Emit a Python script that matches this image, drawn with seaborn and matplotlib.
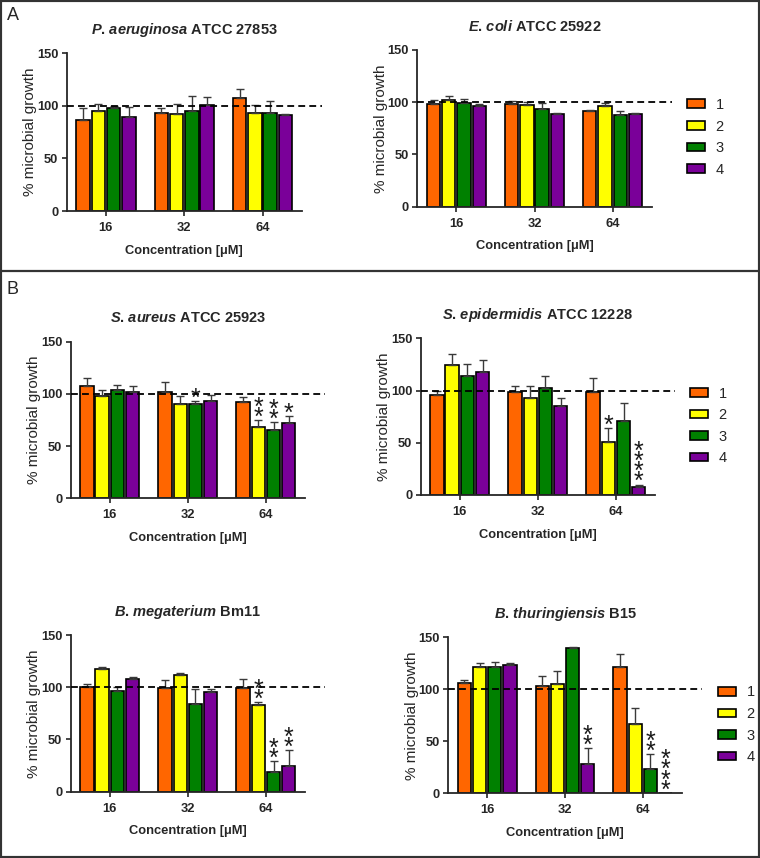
import numpy as np
import pandas as pd
import matplotlib
matplotlib.use("Agg")
import matplotlib.pyplot as plt
import seaborn as sns
from matplotlib.patches import Patch, Rectangle
from matplotlib.lines import Line2D

CONC = ["16", "32", "64"]
COMPOUNDS = ["1", "2", "3", "4"]
COLORS = ["#ff6600", "#ffff00", "#008000", "#7a0099"]

# mean / SD of % growth, rows = concentration, cols = compound 1..4
PA_MEAN = [[87, 95, 98, 89], [93, 92, 95, 100.5], [107.5, 93, 93, 91]]
PA_SD = [[11, 7, 2, 10], [5, 9.5, 14, 8], [9, 8, 12, 1.5]]
EC_MEAN = [[98, 102, 99, 96], [98, 97, 94, 89], [92, 96, 87.5, 88.5]]
EC_SD = [[4, 3.5, 4, 2.5], [3.5, 3, 5, 1], [1, 3, 4.5, 1]]
SA_MEAN = [[108, 98, 104, 102], [102, 90, 90, 93.5], [92, 68, 65, 72]]
SA_SD = [[7, 6, 5, 6], [9, 8, 3, 5], [5, 7, 8, 7]]
SE_MEAN = [[96, 124, 114, 118], [99, 92.5, 102, 85], [99, 51, 71, 7.5]]
SE_SD = [[4, 11, 11, 11], [5, 12, 12, 8], [13, 13, 17, 2.5]]
BM_MEAN = [[100.5, 117, 96, 108], [99.5, 112, 84, 95], [99.5, 83, 19, 25]]
BM_SD = [[3, 2, 4.5, 1.5], [7, 1.2, 14, 3], [8, 3, 10, 15]]
BT_MEAN = [[106, 121, 121, 123], [103, 105, 140, 28.5], [121, 67, 23.5, 0.5]]
BT_SD = [[3, 4, 5, 2], [10, 13, 0.5, 15], [13, 15, 14, 0]]

# significance: (concentration idx, compound idx, number of stars)
PA_STARS = []
EC_STARS = []
SA_STARS = [(1, 2, 1), (2, 1, 2), (2, 2, 2), (2, 3, 1)]
SE_STARS = [(2, 1, 1), (2, 3, 4)]
BM_STARS = [(2, 1, 2), (2, 2, 2), (2, 3, 2)]
BT_STARS = [(1, 3, 2), (2, 2, 2), (2, 3, 4)]

W, H = 760, 858

sns.set_style("ticks")
plt.rcParams["font.family"] = ["Liberation Sans", "DejaVu Sans"]
plt.rcParams["mathtext.fontset"] = "custom"
plt.rcParams["mathtext.it"] = "Liberation Sans:italic:bold"
plt.rcParams["mathtext.rm"] = "Liberation Sans:bold"
plt.rcParams["mathtext.bf"] = "Liberation Sans:bold"


def px_rect(x0, y0, x1, y1):
    return [x0 / W, 1 - y1 / H, (x1 - x0) / W, (y1 - y0) / H]


def draw_panel(fig, rect, title, mean, sd, stars):
    ax = fig.add_axes(px_rect(*rect))
    df = pd.DataFrame({"conc": [c for c in CONC for _ in COMPOUNDS],
                       "compound": COMPOUNDS * len(CONC),
                       "growth": np.ravel(mean)})
    sns.barplot(data=df, x="conc", y="growth", hue="compound",
                order=CONC, hue_order=COMPOUNDS, palette=COLORS,
                saturation=1, width=0.78, gap=0.12, edgecolor="black",
                linewidth=1.2, errorbar=None, legend=False, ax=ax)
    sd = np.array(sd)
    # bars sorted left to right -> (conc, compound) order
    bars = sorted(ax.patches, key=lambda b: b.get_x())
    bars = [bars[i * len(COMPOUNDS):(i + 1) * len(COMPOUNDS)] for i in range(len(CONC))]
    xs, tops, errs = [], [], []
    for ci, row in enumerate(bars):
        for hi, b in enumerate(row):
            xs.append(b.get_x() + b.get_width() / 2)
            tops.append(b.get_height())
            errs.append(sd[ci, hi])
    ax.errorbar(xs, tops, yerr=[np.zeros(len(xs)), errs], fmt="none",
                ecolor="#3a3a3a", elinewidth=1, capsize=3, capthick=1, zorder=3)
    for ci, hi, n in stars:
        b = bars[ci][hi]
        x = b.get_x() + b.get_width() / 2
        top = b.get_height() + sd[ci, hi]
        ax.annotate("\n".join(["*"] * n), (x, top), xytext=(0, -7),
                    textcoords="offset points", ha="center", va="bottom",
                    fontsize=18, linespacing=0.27, color="#1a1a1a")
    ax.plot([0, 1.085], [100, 100], transform=ax.get_yaxis_transform(),
            ls=(0, (3.8, 2.3)), color="black", lw=1.3, clip_on=False, zorder=4)
    ax.set_ylim(0, 150)
    ax.set_xlim(-0.5, 2.5)
    ax.set_yticks([0, 50, 100, 150])
    sns.despine(ax=ax)
    for s in ("left", "bottom"):
        ax.spines[s].set_linewidth(1.3)
    ax.tick_params(axis="both", width=1.2, length=3.5, pad=2.5, labelsize=9.3)
    ax.tick_params(axis="x", pad=4.5)
    for t in ax.get_xticklabels() + ax.get_yticklabels():
        t.set_fontweight("bold")
    ax.set_title(title, fontsize=10.5, fontweight="bold", pad=14)
    ax.set_xlabel("Concentration [μM]", fontsize=9.3, fontweight="bold")
    ax.set_ylabel("% microbial growth", fontsize=11)
    ax.xaxis.set_label_coords(0.5, -0.215)
    ax.yaxis.set_label_coords(-0.125, 0.5)
    return ax


def add_legend(fig, x, y):
    handles = [Patch(facecolor=c, edgecolor="black", linewidth=1.2) for c in COLORS]
    fig.legend(handles, COMPOUNDS, loc="upper left",
               bbox_to_anchor=(x / W, 1 - y / H), frameon=False, borderpad=0,
               borderaxespad=0, handlelength=1.2, handleheight=0.55,
               labelspacing=0.52, handletextpad=0.75, fontsize=10.5)


fig = plt.figure(figsize=(W / 100, H / 100), dpi=100)

draw_panel(fig, (66.7, 53.3, 301.7, 211), r"$P$. $aeruginosa$ ATCC 27853",
           PA_MEAN, PA_SD, PA_STARS)
draw_panel(fig, (417.3, 50, 651.7, 206.7), r"$E$. $coli$ ATCC 25922",
           EC_MEAN, EC_SD, EC_STARS)
draw_panel(fig, (70.7, 341.7, 305, 498.3), r"$S$. $aureus$ ATCC 25923",
           SA_MEAN, SA_SD, SA_STARS)
draw_panel(fig, (420.7, 338.3, 655, 495), r"$S$. $epidermidis$ ATCC 12228",
           SE_MEAN, SE_SD, SE_STARS)
draw_panel(fig, (70.7, 635, 305, 791.7), r"$B$. $megaterium$ Bm11",
           BM_MEAN, BM_SD, BM_STARS)
draw_panel(fig, (448.3, 637.3, 681.7, 793.3), r"$B$. $thuringiensis$ B15",
           BT_MEAN, BT_SD, BT_STARS)

add_legend(fig, 687, 98)
add_legend(fig, 690, 386.5)
add_legend(fig, 718.3, 685.5)

fig.text(13 / W, 1 - 15 / H, "A", fontsize=13, ha="center", va="center")
fig.text(12 / W, 1 - 290 / H, "B", fontsize=13, ha="center", va="center")

fig.add_artist(Rectangle((0, 0), 1, 1, transform=fig.transFigure, fill=False,
                         lw=3, ec="#333333"))
fig.add_artist(Line2D([0, 1], [1 - 271 / H, 1 - 271 / H], transform=fig.transFigure,
                      lw=1.6, color="#333333"))

fig.savefig("out.png", dpi=100)
